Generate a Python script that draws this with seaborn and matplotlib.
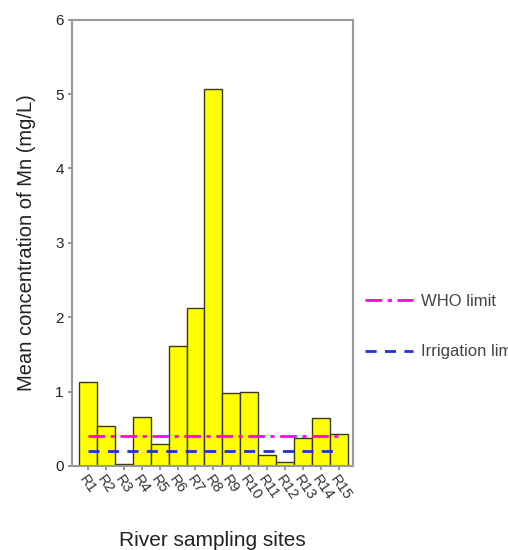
import matplotlib
matplotlib.use("Agg")
import matplotlib.pyplot as plt
import seaborn as sns
import pandas as pd

sites = [f"R{i}" for i in range(1, 16)]
mn_values = [1.13, 0.53, 0.02, 0.66, 0.30, 1.61, 2.13, 5.07, 0.98, 1.00, 0.15, 0.05, 0.37, 0.65, 0.43]
who_limit = 0.4
irrigation_limit = 0.2

sns.set_theme(style="white")
plt.rcParams['font.family'] = ['Liberation Sans', 'DejaVu Sans']

df = pd.DataFrame({"site": sites, "mn": mn_values})

fig = plt.figure(figsize=(5.08, 5.50), dpi=100)
ax = fig.add_axes([0.1417, 0.153, 0.553, 0.811])

sns.barplot(data=df, x="site", y="mn", color="#FFFF00", width=1.0,
            edgecolor="#3a3a10", linewidth=1.0, saturation=1, ax=ax)

n = len(sites)
ax.plot([0, n - 1], [who_limit, who_limit], color="#FF00FF", linestyle=(0, (6, 2, 1.5, 2)),
        linewidth=2, label="WHO limit")
ax.plot([0, n - 1], [irrigation_limit, irrigation_limit], color="#2233CC", linestyle=(0, (4, 3)),
        linewidth=2, label="Irrigation limit")

ax.set_xlim(-0.9, 14.8)
ax.set_ylim(0, 6)
ax.set_yticks([0, 1, 2, 3, 4, 5, 6])
ax.tick_params(axis='y', labelsize=11, length=3, color="#888888", left=True, pad=3,
               labelcolor="#222222")
ax.tick_params(axis='x', labelsize=10.5, length=3, color="#888888", bottom=True, pad=2,
               labelcolor="#333333")
plt.setp(ax.get_xticklabels(), rotation=-55, ha='left', rotation_mode='anchor')

for s in ax.spines.values():
    s.set_color("#999999")
    s.set_linewidth(1.5)

ax.set_xlabel("River sampling sites", fontsize=15, labelpad=20, color="#222222")
ax.set_ylabel("Mean concentration of Mn (mg/L)", fontsize=14.5, labelpad=14, color="#222222")

leg = ax.legend(loc="upper left", bbox_to_anchor=(0.99, 0.42), frameon=False, fontsize=12,
                labelspacing=2.15, handlelength=2.9, handletextpad=0.45)
for t in leg.get_texts():
    t.set_color("#444444")

fig.savefig("out.png", dpi=100)
